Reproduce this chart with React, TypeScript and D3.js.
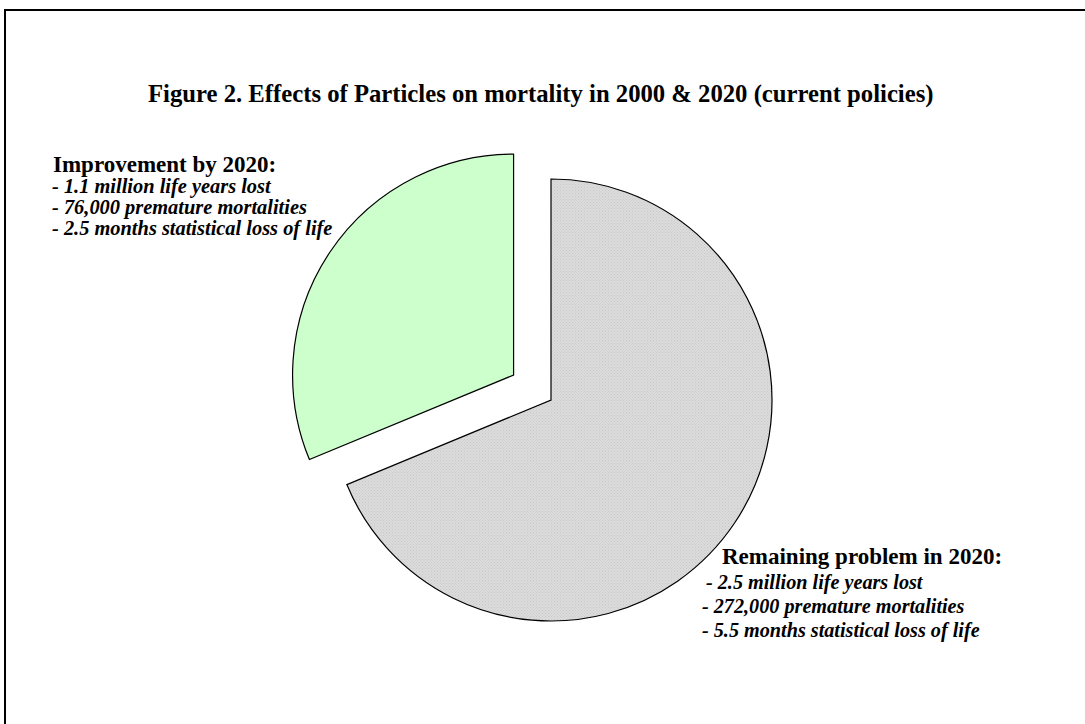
import React from "react";
import * as d3 from "d3";

// slice values: months of statistical loss of life
const categories = ["Remaining problem in 2020", "Improvement by 2020"];
const values = [5.5, 2.5];
const colors = ["url(#greyDots)", "#ccffcc"];

const title = "Figure 2. Effects of Particles on mortality in 2000 & 2020 (current policies)";
const improvementLines = [
    "- 1.1 million life years lost",
    "- 76,000 premature mortalities",
    "- 2.5 months statistical loss of life",
];
const remainingLines = [
    "- 2.5 million life years lost",
    "- 272,000 premature mortalities",
    "- 5.5 months statistical loss of life",
];

const width = 1085;
const height = 724;
const cx = 551;
const cy = 400;
const radius = 221;
const explode = 45;

const App = () => {
    const data = categories.map((c, i) => ({ title: c, value: values[i] }));

    const pie = d3
        .pie<{ title: string; value: number }>()
        .value(d => d.value)
        .sort(null);

    const arc = d3
        .arc<d3.PieArcDatum<{ title: string; value: number }>>()
        .innerRadius(0)
        .outerRadius(radius);

    const arcs = pie(data);

    return (
        <svg
            width={width}
            height={height}
            style={{ position: "absolute", left: 0, top: 0, display: "block" }}
            fontFamily="'Liberation Serif', 'Times New Roman', serif"
        >
            <defs>
                <pattern id="greyDots" width="3" height="3" patternUnits="userSpaceOnUse">
                    <rect width="3" height="3" fill="#dcdcdc" />
                    <rect x="0" y="0" width="1" height="1" fill="#c8c8c8" />
                    <rect x="1.5" y="1.5" width="1" height="1" fill="#c8c8c8" />
                </pattern>
            </defs>
            <rect width={width} height={height} fill="#fff" />
            <rect x={5} y={10} width={width + 10} height={height + 10} fill="none" stroke="#000" strokeWidth={2} />

            <text x={148} y={102} fontWeight="bold" fontSize={24.7}>
                {title}
            </text>

            <g transform={`translate(${cx},${cy})`}>
                {arcs.map((d, i) => {
                    let tx = 0, ty = 0;
                    if (i === 1) {
                        const mid = (d.startAngle + d.endAngle) / 2;
                        tx = Math.sin(mid) * explode;
                        ty = -Math.cos(mid) * explode;
                    }
                    return (
                        <path
                            key={d.data.title}
                            d={arc(d) || ""}
                            fill={colors[i]}
                            stroke="#000"
                            strokeWidth={1.2}
                            transform={`translate(${tx},${ty})`}
                        />
                    );
                })}
            </g>

            <g fontWeight="bold">
                <text x={53} y={172} fontSize={23}>{categories[1]}:</text>
                {improvementLines.map((t, i) => (
                    <text key={t} x={52} y={193 + i * 21} fontSize={20.4} fontStyle="italic">
                        {t}
                    </text>
                ))}
                <text x={722} y={564} fontSize={23}>{categories[0]}:</text>
                {remainingLines.map((t, i) => (
                    <text key={t} x={i === 0 ? 706 : 702} y={589 + i * 24} fontSize={20.2} fontStyle="italic">
                        {t}
                    </text>
                ))}
            </g>
        </svg>
    );
};

export default App;
